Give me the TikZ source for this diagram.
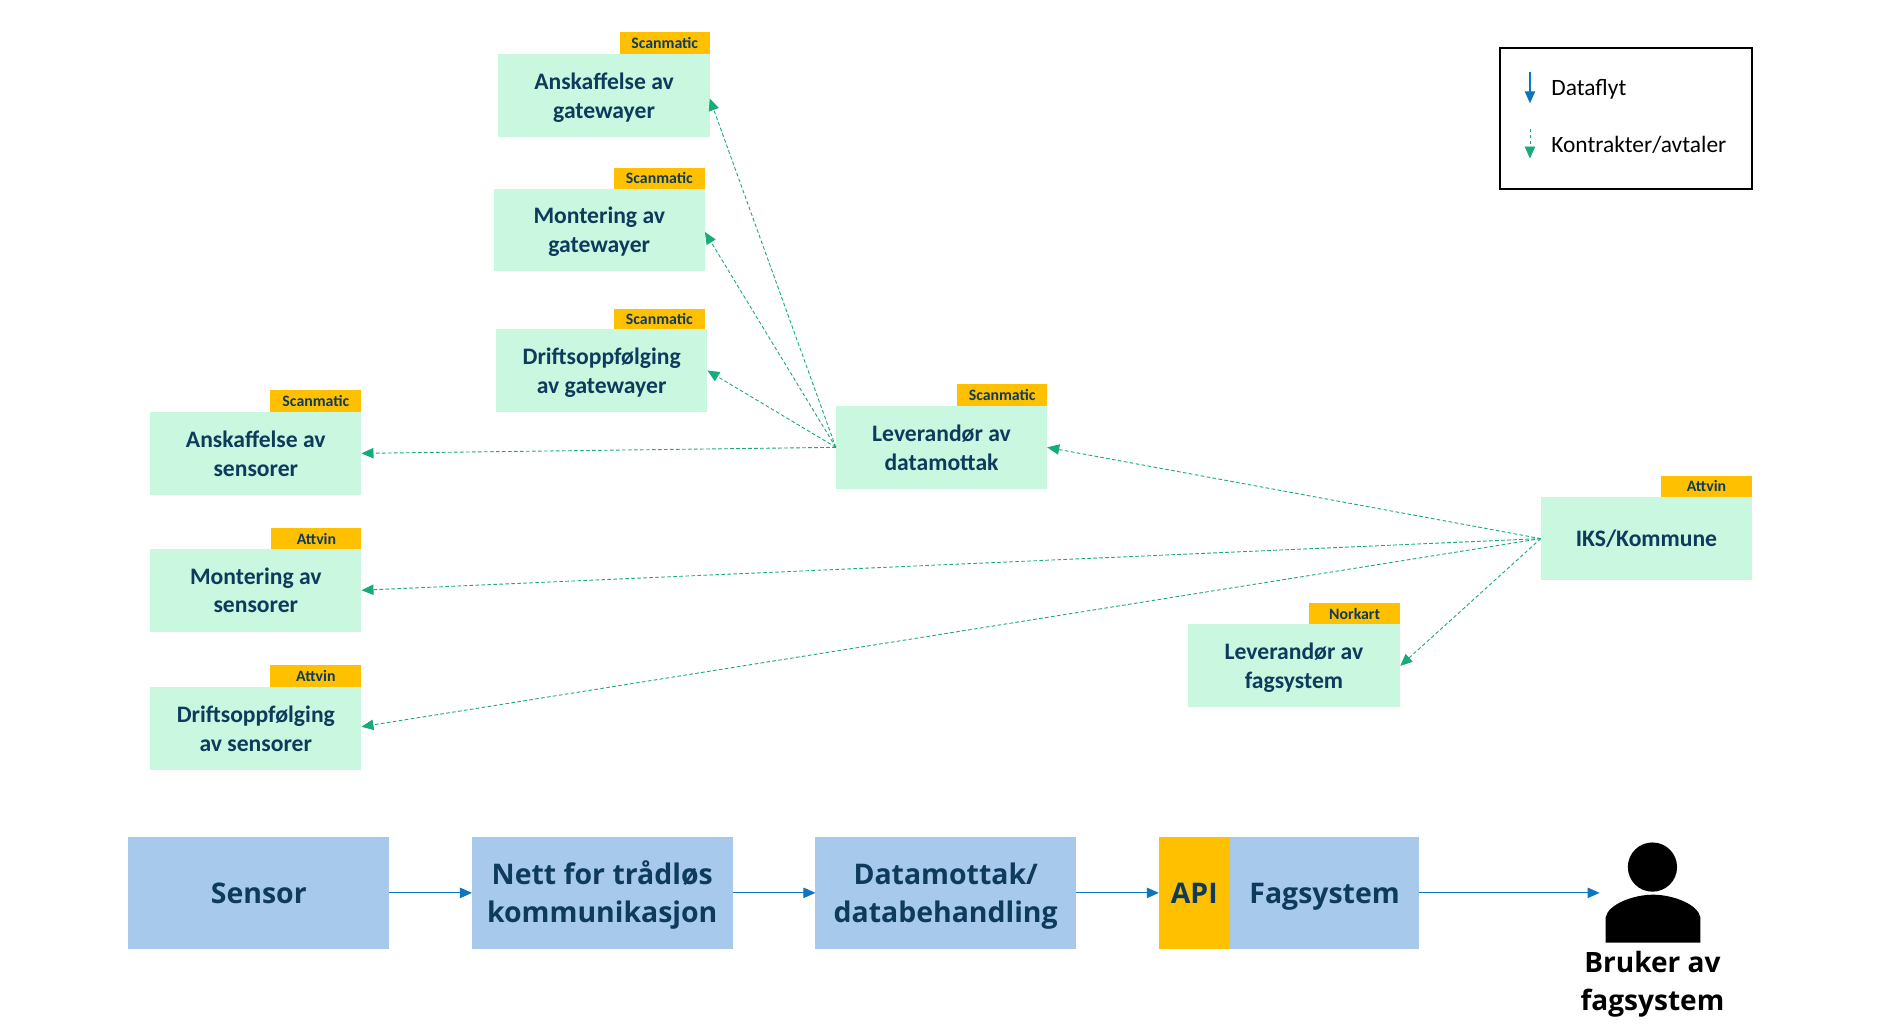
\documentclass[tikz,border=0pt]{standalone}
\usepackage{fontspec}
\setmainfont{Carlito}
\newfontfamily\lowfont{Open Sans}
\usetikzlibrary{arrows.meta,positioning}
\definecolor{boxgreen}{HTML}{C9F7E0}
\definecolor{tagyellow}{HTML}{FFC000}
\definecolor{boxblue}{HTML}{A6C9EC}
\definecolor{inkdark}{HTML}{0E3A5C}
\definecolor{flowblue}{HTML}{0F75BD}
\definecolor{dealgreen}{HTML}{17AB78}
\tikzset{
  x=0.6pt,y=-0.6pt,
  base/.style={inner sep=0pt,outer sep=0pt,align=center,text=inkdark},
  activity/.style={base,fill=boxgreen,font=\fontsize{11.8}{14.4}\selectfont\bfseries},
  tagbox/.style={base,fill=tagyellow,font=\fontsize{7.9}{8}\selectfont\bfseries},
  system/.style={base,fill=boxblue,font=\lowfont\fontsize{14.2}{18.8}\selectfont\bfseries},
  apibox/.style={system,fill=tagyellow},
  flow/.style={flowblue,line width=0.55pt,-{Triangle[length=6pt,width=5.2pt]}},
  deal/.style={dealgreen,line width=0.45pt,dash pattern=on 1.8pt off 1.2pt,-{Triangle[length=6pt,width=5.2pt]}},
  legendtext/.style={inner sep=0pt,anchor=west,text=black,font=\fontsize{11.7}{13}\selectfont},
}
% name, style, x1, y1, x2, y2, text
\newcommand{\rectnode}[7]{%
  \pgfmathsetmacro{\cxv}{(#3+#5)/2}%
  \pgfmathsetmacro{\cyv}{(#4+#6)/2}%
  \pgfmathsetlengthmacro{\wdv}{(#5-#3)*0.6pt}%
  \pgfmathsetlengthmacro{\htv}{(#6-#4)*0.6pt}%
  \node[#2,minimum width=\wdv,minimum height=\htv] (#1) at (\cxv,\cyv) {#7};}
% two-line label with fixed height and depth, so that every pair sits at the same level
\newcommand{\lowtwo}[2]{\rule{0pt}{11.5pt}#1\\\rule[-3.2pt]{0pt}{3.2pt}#2}
\begin{document}
\begin{tikzpicture}
\useasboundingbox (0,0) rectangle (1568,855.2);
% activity boxes
\rectnode{aa}{activity}{415}{45}{591}{114}{\lowtwo{Anskaffelse av}{gatewayer}}
\rectnode{ab}{activity}{411}{157}{587}{226}{\lowtwo{Montering av}{gatewayer}}
\rectnode{ac}{activity}{413}{274}{589}{343}{\lowtwo{Driftsoppfølging}{av gatewayer}}
\rectnode{sa}{activity}{125}{343}{301}{412}{\lowtwo{Anskaffelse av}{sensorer}}
\rectnode{sb}{activity}{125}{457}{301}{526}{\lowtwo{Montering av}{sensorer}}
\rectnode{sc}{activity}{125}{572}{301}{641}{\lowtwo{Driftsoppfølging}{av sensorer}}
\rectnode{lev}{activity}{696}{338}{872}{407}{\lowtwo{Leverandør av}{datamottak}}
\rectnode{iks}{activity}{1283}{414}{1459}{483}{IKS/Kommune}
\rectnode{fag}{activity}{989}{520}{1166}{589}{\lowtwo{Leverandør av}{fagsystem}}
% tags
\rectnode{taa}{tagbox}{516}{27}{591}{45}{Scanmatic}
\rectnode{tab}{tagbox}{511}{140}{587}{157}{Scanmatic}
\rectnode{tac}{tagbox}{511}{257}{587}{274}{Scanmatic}
\rectnode{tsa}{tagbox}{225}{325}{301}{343}{Scanmatic}
\rectnode{tsb}{tagbox}{226}{440}{301}{457}{Attvin}
\rectnode{tsc}{tagbox}{225}{554}{301}{572}{Attvin}
\rectnode{tlev}{tagbox}{797}{320}{872}{338}{Scanmatic}
\rectnode{tiks}{tagbox}{1383}{396}{1459}{414}{Attvin}
\rectnode{tfag}{tagbox}{1090}{502}{1166}{520}{Norkart}
% contract connectors
\draw[deal] (lev.west) -- ([yshift=-1.5pt]aa.east);
\draw[deal] (lev.west) -- ([yshift=-1pt]ab.east);
\draw[deal] (lev.west) -- (ac.east);
\draw[deal] (lev.west) -- (sa.east);
\draw[deal] (iks.west) -- (lev.east);
\draw[deal] (iks.west) -- (sb.east);
\draw[deal] (iks.west) -- ([yshift=0.8pt]sc.east);
\draw[deal] (iks.west) -- (fag.east);
% bottom chain
\rectnode{sensor}{system}{107}{697}{324}{790}{Sensor}
\rectnode{nett}{system}{393}{697}{610}{790}{\rule{0pt}{14.2pt}Nett for trådløs\\kommunikasjon}
\rectnode{data}{system}{679}{697}{896}{790}{\rule{0pt}{14.2pt}Datamottak/\\databehandling}
\rectnode{api}{apibox}{965}{697}{1024}{790}{API}
\rectnode{fsys}{system}{1024}{697}{1182}{790}{\rule{0pt}{14pt}Fagsystem}
\coordinate (usr) at (1332,743.5);
\draw[flow] (sensor) -- (nett);
\draw[flow] (nett) -- (data);
\draw[flow] (data) -- (api);
\draw[flow] (fsys) -- (usr);
% person
\fill[black] (1376,722) ellipse [x radius=20.5,y radius=20.5];
\fill[black] (1337,785) -- (1337,764) .. controls (1339,753) and (1360,745) .. (1376.5,745)
  .. controls (1393,745) and (1414,753) .. (1416,764) -- (1416,785) -- cycle;
\node[inner sep=0pt,align=center,text=black,font=\lowfont\fontsize{14}{18.6}\selectfont\bfseries] (brk) at (1376,819.5) {Bruker av\\fagsystem};
% legend
\rectnode{legend}{draw=black,line width=1pt,fill=none}{1249}{40}{1459}{157}{}
\coordinate (la) at (1274,60); \coordinate (lb) at (1274,86);
\coordinate (lc) at (1274,107); \coordinate (ld) at (1274,132);
\draw[flow] (la) -- (lb);
\draw[deal] (lc) -- (ld);
\node[legendtext] (ta) at (1291.5,74) {Dataflyt};
\node[legendtext] (tb) at (1291.5,120.5) {Kontrakter/avtaler};
\end{tikzpicture}
\end{document}
